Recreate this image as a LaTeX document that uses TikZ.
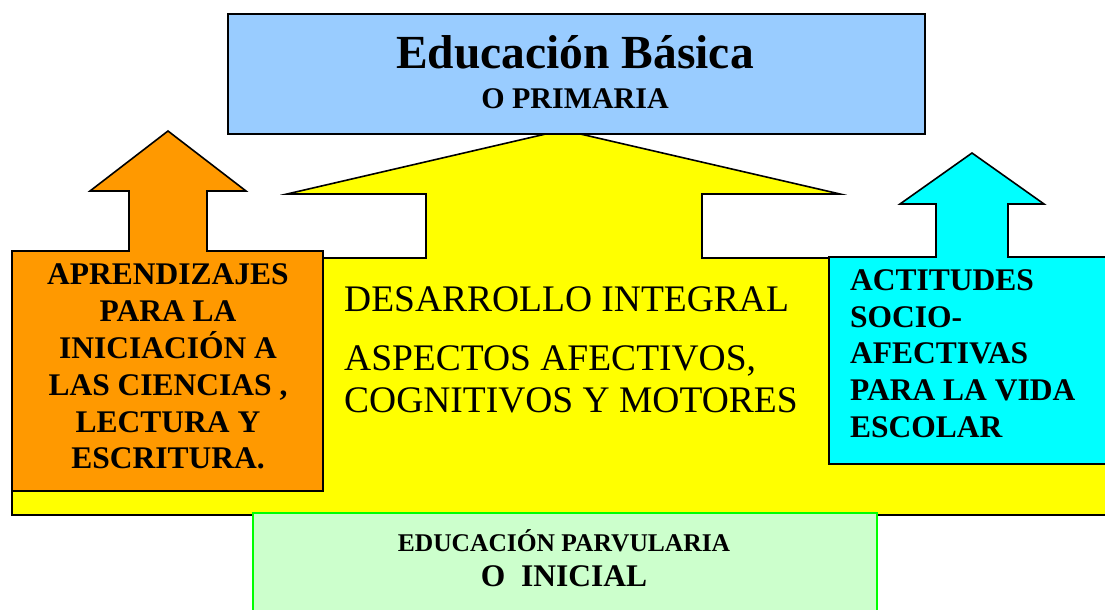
\documentclass[tikz,border=0pt]{standalone}
\usepackage{fontspec}
\setmainfont{Liberation Serif}
\definecolor{cyellow}{HTML}{FFFF00}
\definecolor{corange}{HTML}{FF9900}
\definecolor{ccyan}{HTML}{00FFFF}
\definecolor{cblue}{HTML}{99CCFF}
\definecolor{cgreenfill}{HTML}{CCFFCC}
\definecolor{cgreenline}{HTML}{00FF00}
\tikzset{
  shapeline/.style={draw=black, line width=1.6pt, line join=miter},
  boldtxt/.style={inner sep=0pt, font=\fontsize{31.5}{37}\selectfont\bfseries},
  regtxt/.style={inner sep=0pt, anchor=base west, font=\fontsize{37.5}{42}\selectfont},
}
\begin{document}
\begin{tikzpicture}[x=1pt,y=-1pt]
\useasboundingbox (0,0) rectangle (1105,610);
\clip (0,0) rectangle (1105,610);
% yellow big arrow
\path[shapeline, fill=cyellow] (12,258) -- (426,258) -- (426,194) -- (287,194) -- (563,130)
  -- (840,194) -- (702,194) -- (702,258) -- (1112,258) -- (1112,515) -- (12,515) -- cycle;
% orange arrow
\path[shapeline, fill=corange] (12,251) -- (129,251) -- (129,191) -- (90,191) -- (168,131)
  -- (246,191) -- (207,191) -- (207,251) -- (323,251) -- (323,491) -- (12,491) -- cycle;
% cyan arrow
\path[shapeline, fill=ccyan] (829,257) -- (936,257) -- (936,204) -- (900,204) -- (972,153)
  -- (1044,204) -- (1008,204) -- (1008,257) -- (1112,257) -- (1112,464) -- (829,464) -- cycle;
% blue box
\node[shapeline, fill=cblue, minimum width=697pt, minimum height=120pt, inner sep=0pt, anchor=north west] (top) at (227,13) {};
\node[inner sep=0pt, anchor=base, font=\fontsize{47.5}{50}\selectfont\bfseries] (t1) at (575,68) {Educación Básica};
\node[inner sep=0pt, anchor=base, font=\fontsize{30}{34}\selectfont\bfseries] (t2) at (575,108) {O PRIMARIA};
% green box
\node[draw=cgreenline, line width=2pt, fill=cgreenfill, minimum width=624pt, minimum height=110pt, inner sep=0pt, anchor=north west] (bottom) at (252,512) {};
\node[inner sep=0pt, anchor=base, font=\fontsize{25.5}{30}\selectfont\bfseries] (g1) at (564,551) {EDUCACIÓN PARVULARIA};
\node[inner sep=0pt, anchor=base, font=\fontsize{31.5}{36}\selectfont\bfseries] (g2) at (564,586) {O\ \ INICIAL};
% orange text
\node[boldtxt, anchor=base] (o1) at (168,284) {APRENDIZAJES};
\node[boldtxt, anchor=base] (o2) at (168,321) {PARA LA};
\node[boldtxt, anchor=base] (o3) at (168,358) {INICIACIÓN A};
\node[boldtxt, anchor=base] (o4) at (168,395) {LAS CIENCIAS ,};
\node[boldtxt, anchor=base] (o5) at (168,432) {LECTURA Y};
\node[boldtxt, anchor=base] (o6) at (168,468) {ESCRITURA.};
% middle text
\node[regtxt] (m1) at (344,311) {DESARROLLO INTEGRAL};
\node[regtxt] (m2) at (344,370) {ASPECTOS AFECTIVOS,};
\node[regtxt] (m3) at (344,412) {COGNITIVOS Y MOTORES};
% cyan text
\node[boldtxt, anchor=base west] (c1) at (850,290) {ACTITUDES};
\node[boldtxt, anchor=base west] (c2) at (850,327) {SOCIO-};
\node[boldtxt, anchor=base west] (c3) at (850,363) {AFECTIVAS};
\node[boldtxt, anchor=base west] (c4) at (850,400) {PARA LA VIDA};
\node[boldtxt, anchor=base west] (c5) at (850,437) {ESCOLAR};
\end{tikzpicture}
\end{document}
